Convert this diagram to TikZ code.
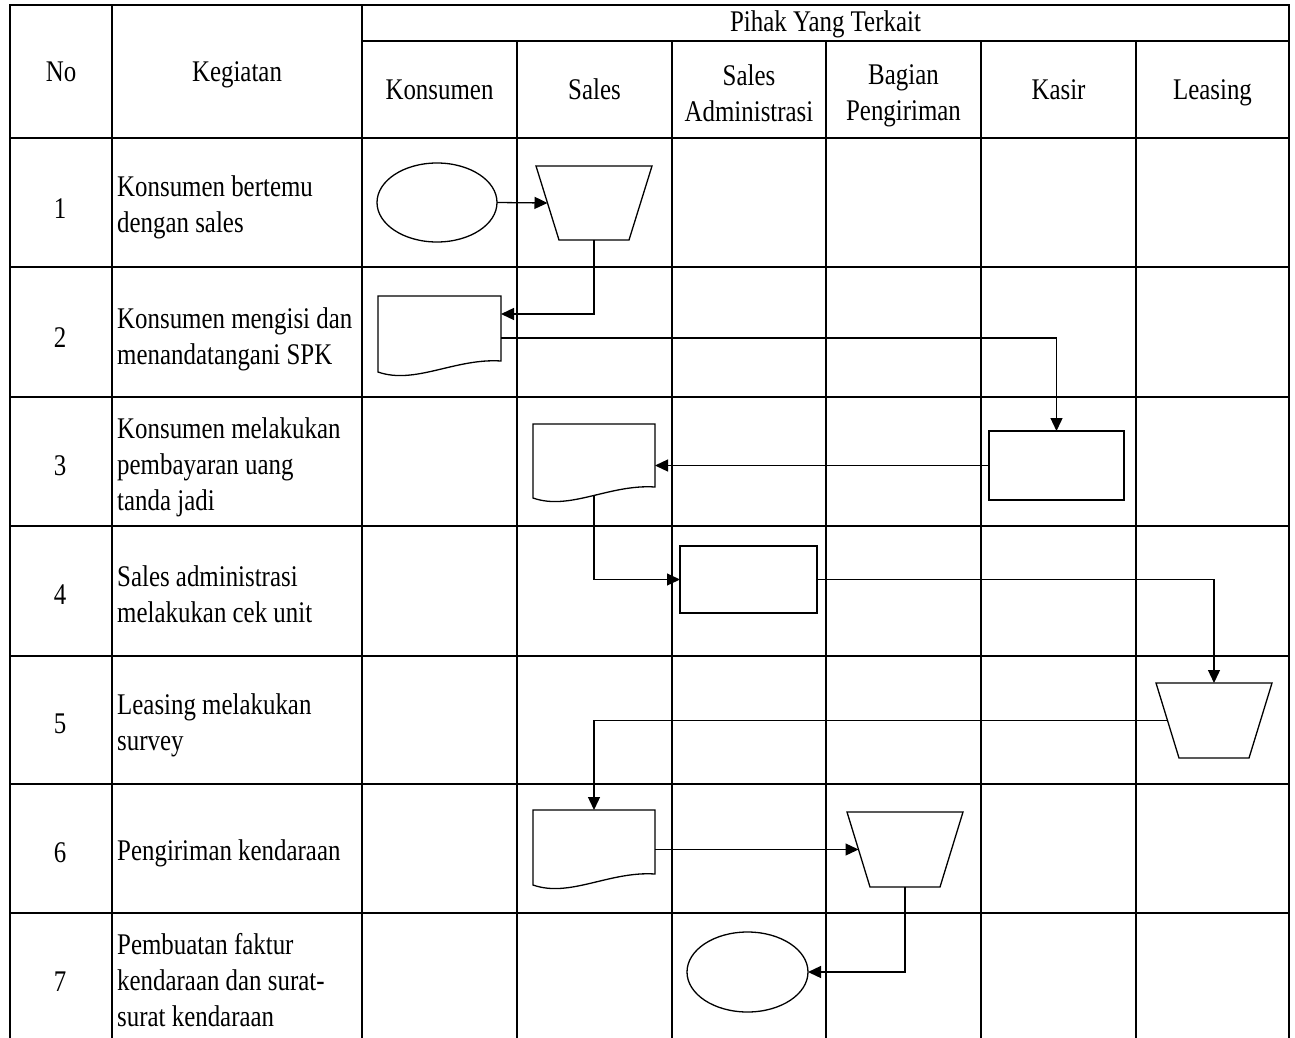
\documentclass[tikz,border=0pt]{standalone}
\usepackage{fontspec}
\setmainfont{Liberation Serif}[FakeStretch=0.83]
\usetikzlibrary{shapes.geometric,arrows.meta,calc}
\newcommand{\drawdoc}[1]{\draw[line width=1.3pt] (#1.north west) -- (#1.north east) -- ($(#1.south east)+(0,-11)$) .. controls ($(#1.south east)+(-46,-14)$) and ($(#1.south west)+(37,13)$) .. (#1.south west) -- cycle;}
\newcommand{\drawtrap}[1]{\draw[line width=1.3pt, line join=miter] (#1.north west) -- (#1.north east) -- ($(#1.south east)+(-23,0)$) -- ($(#1.south west)+(23,0)$) -- cycle;}
\begin{document}
\begin{tikzpicture}[x=1pt,y=-1pt,
  grid/.style={line width=2.4pt, line cap=rect},
  shp/.style={draw, line width=1.3pt, inner sep=0pt, outer sep=0pt},
  oval/.style={shp, ellipse},
  boxr/.style={shp, rectangle},
  frame/.style={rectangle, inner sep=0pt, outer sep=0pt},
  arr/.style={line width=1.3pt, -{Triangle[length=13pt,width=12pt]}},
  txt/.style={font=\fontsize{30}{36}\selectfont, inner sep=0pt},
  keg/.style={txt, anchor=north west, align=left},
  hd/.style={txt, anchor=base},
  hd2/.style={txt, anchor=north, align=center}
]
\useasboundingbox (0,0) rectangle (1295,1038);
% table grid
\draw[grid] (10,5) -- (1289,5);
\draw[grid] (362,41) -- (1289,41);
\foreach \yy in {138,267,397,526,656,784,913} \draw[grid] (10,\yy) -- (1289,\yy);
\foreach \xx in {10,112,362,1289} \draw[grid] (\xx,5) -- (\xx,1042);
\foreach \xx in {517,672,826,981,1136} \draw[grid] (\xx,41) -- (\xx,1042);

% header texts
\node[hd] (hno) at (61,82) {No};
\node[hd] (hkeg) at (237,82) {Kegiatan};
\node[hd] (hpihak) at (825.5,32) {Pihak Yang Terkait};
\node[hd] (hkon) at (439.5,100) {Konsumen};
\node[hd] (hsal) at (594.5,100) {Sales};
\node[hd2] (hsa) at (749,64) {Sales\\Administrasi};
\node[hd2] (hbp) at (903.5,64) {Bagian\\Pengiriman};
\node[hd] (hkas) at (1058.5,100) {Kasir};
\node[hd] (hlea) at (1212.5,100) {Leasing};

% row numbers
\node[hd] (n1) at (60,218) {1};
\node[hd] (n2) at (60,347) {2};
\node[hd] (n3) at (60,475) {3};
\node[hd] (n4) at (60,604) {4};
\node[hd] (n5) at (60,733) {5};
\node[hd] (n6) at (60,862) {6};
\node[hd] (n7) at (60,991) {7};

% kegiatan texts
\node[keg] (k1) at (117,175) {Konsumen bertemu\\dengan sales};
\node[keg] (k2) at (117,307) {Konsumen mengisi dan\\menandatangani SPK};
\node[keg] (k3t) at (117,417) {Konsumen melakukan\\pembayaran uang\\tanda jadi};
\node[keg] (k4) at (117,565) {Sales administrasi\\melakukan cek unit};
\node[keg] (k5) at (117,693) {Leasing melakukan\\survey};
\node[txt, anchor=base west] (k6) at (117,860) {Pengiriman kendaraan};
\node[keg] (k7) at (117,933) {Pembuatan faktur\\kendaraan dan surat-\\surat kendaraan};

% flow shapes
\node[oval, minimum width=120pt, minimum height=79pt] (e1) at (437,202.5) {};
\node[frame, minimum width=116pt, minimum height=74pt] (t1) at (594,203) {};
\drawtrap{t1}
\node[frame, minimum width=123pt, minimum height=76pt] (d2) at (439.5,334) {};
\drawdoc{d2}
\node[boxr, minimum width=135pt, minimum height=69pt] (k3) at (1056.5,465.5) {};
\node[frame, minimum width=122pt, minimum height=74pt] (d3) at (594,461) {};
\drawdoc{d3}
\node[boxr, minimum width=137pt, minimum height=67pt] (b4) at (748.5,579.5) {};
\node[frame, minimum width=116pt, minimum height=75pt] (t5) at (1214,720.5) {};
\drawtrap{t5}
\node[frame, minimum width=122pt, minimum height=75pt] (d6) at (594,847.5) {};
\drawdoc{d6}
\node[frame, minimum width=116pt, minimum height=75pt] (t6) at (905,849.5) {};
\drawtrap{t6}
\node[oval, minimum width=121pt, minimum height=80pt] (e7) at (747.5,972) {};

% connection points on the slanted sides and document edges
\coordinate (t1w) at ($(t1.west)+(11.5,0)$);
\coordinate (t5w) at ($(t5.west)+(11.5,0)$);
\coordinate (t6w) at ($(t6.west)+(11.5,0)$);
\coordinate (d2in) at ($(d2.north east)+(0,18)$);
\coordinate (d2out) at ($(d2.east)+(0,4)$);
\coordinate (d3bot) at ($(d3.south)+(0,-2)$);

% connectors
\draw[arr] (e1.east) -- (t1w);
\draw[arr] (t1.south) |- (d2in);
\draw[arr] (d2out) -| (k3.north);
\draw[arr] (k3.west) -- (k3.west -| d3.east);
\draw[arr] (d3bot) |- (b4.west);
\draw[arr] (b4.east) -| (t5.north);
\draw[arr] (t5w) -| (d6.north);
\draw[arr] (t6w -| d6.east) -- (t6w);
\draw[arr] (t6.south) |- (e7.east);
\end{tikzpicture}
\end{document}
